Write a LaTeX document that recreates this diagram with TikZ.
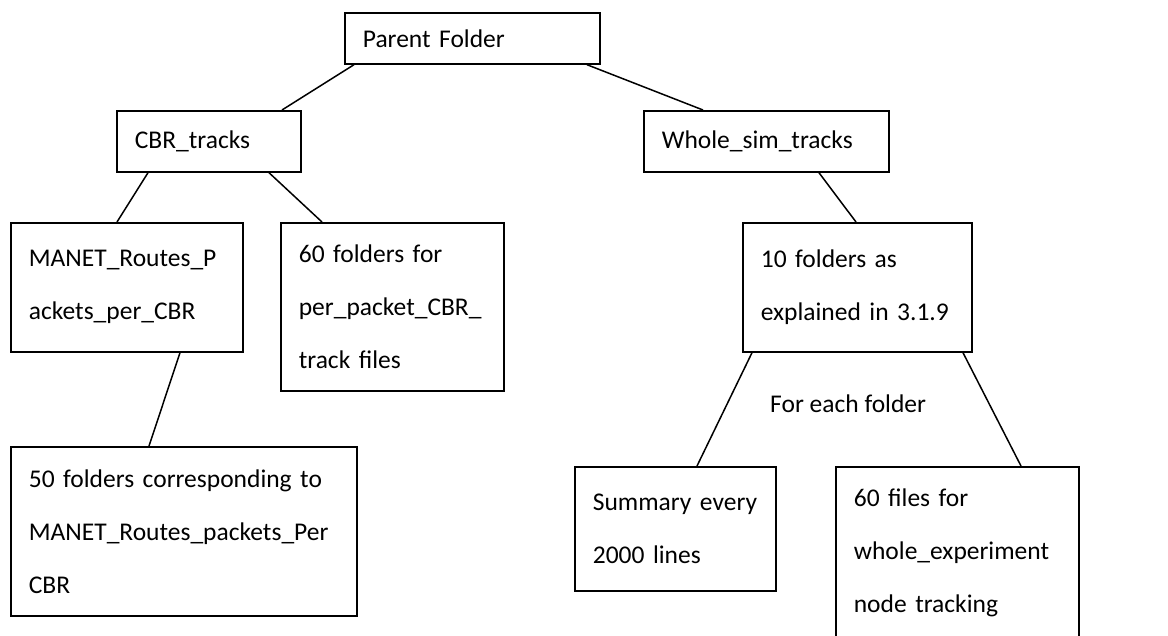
\documentclass[tikz,border=0pt]{standalone}
\usepackage{fontspec}
\setmainfont{Carlito}
\usetikzlibrary{positioning}
\tikzset{
	folder/.style={draw, line width=1.7pt, inner xsep=18pt, inner ysep=0pt, align=left, anchor=north west, font=\fontsize{25.5}{53}\selectfont},
	link/.style={line width=1.5pt}
}

\begin{document}
\begin{tikzpicture}[x=1pt,y=-1pt]
	\useasboundingbox (0,0) rectangle (1168,635);
	\clip (0,0) rectangle (1168,635);

	%Niveau 0
	\node[folder,text width=219pt,minimum height=51pt] (parent) at (344,12) {Parent Folder};

	%Niveau 1
	\node[folder,text width=148pt,minimum height=61pt] (cbr) at (116,110) {CBR\_tracks};
	\node[folder,text width=209pt,minimum height=61pt] (whole) at (643,110) {Whole\_sim\_tracks};

	%Niveau 2
	\node[folder,text width=196pt,minimum height=129pt] (manet) at (10,222) {MANET\_Routes\_P\\ackets\_per\_CBR};
	\node[folder,text width=187pt,minimum height=168pt] (sixty) at (280,222) {60 folders for\\per\_packet\_CBR\_\\track files};
	\node[folder,text width=193pt,minimum height=129pt] (ten) at (742,222) {10 folders as\\explained in 3.1.9};

	%Niveau 3
	\node[folder,text width=310pt,minimum height=169pt] (fifty) at (10,446) {50 folders corresponding to\\MANET\_Routes\_packets\_Per\\CBR};
	\node[folder,text width=165pt,minimum height=124pt] (summary) at (574,466) {Summary every\\2000 lines};
	\node[folder,text width=207pt,minimum height=172pt] (files) at (835,466) {60 files for\\whole\_experiment\\node tracking};

	\node[anchor=base west,inner sep=0pt,font=\fontsize{25.5}{30}\selectfont] (each) at (770,412) {For each folder};

	%Liens
	\draw[link] ([xshift=10pt]parent.south west) -- ([xshift=166pt]cbr.north west);
	\draw[link] ([xshift=243pt]parent.south west) -- ([xshift=60pt]whole.north west);
	\draw[link] ([xshift=32pt]cbr.south west) -- ([xshift=107pt]manet.north west);
	\draw[link] ([xshift=153pt]cbr.south west) -- ([xshift=42pt]sixty.north west);
	\draw[link] ([xshift=176pt]whole.south west) -- ([xshift=114pt]ten.north west);
	\draw[link] ([xshift=170pt]manet.south west) -- ([xshift=139pt]fifty.north west);
	\draw[link] ([xshift=10pt]ten.south west) -- ([xshift=123pt]summary.north west);
	\draw[link] ([xshift=221pt]ten.south west) -- ([xshift=186pt]files.north west);

\end{tikzpicture}
\end{document}
